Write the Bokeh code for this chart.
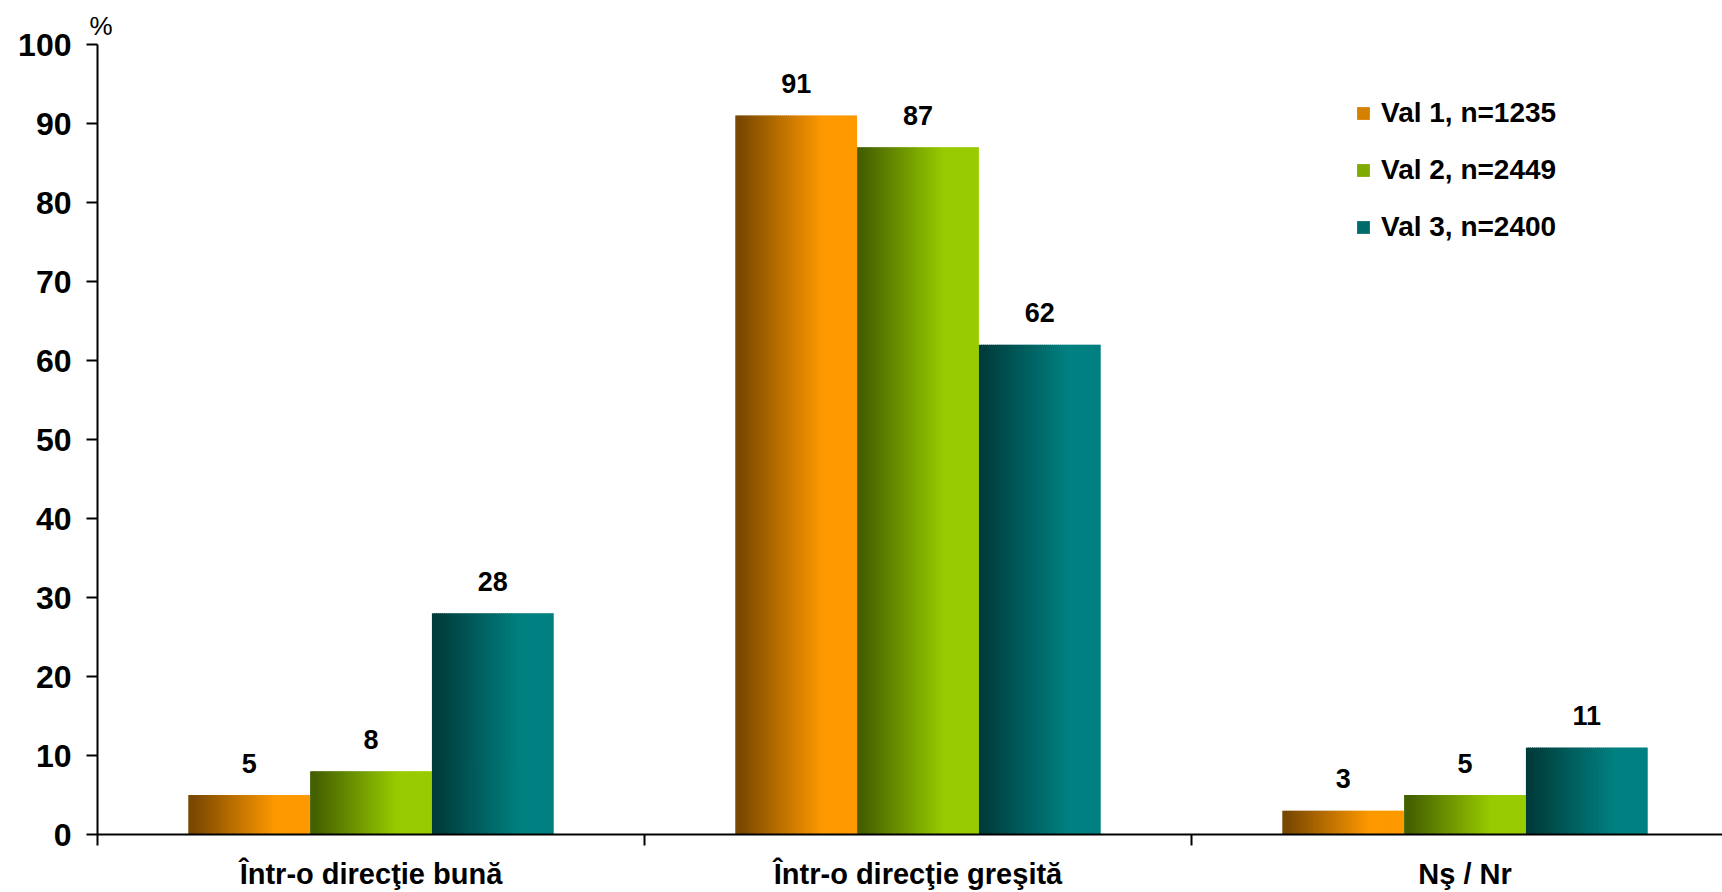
import numpy as np
from bokeh.plotting import figure
from bokeh.models import ColumnDataSource, Range1d, FixedTicker, Legend, LegendItem
from bokeh.core.properties import value
from bokeh.embed import file_html
from bokeh.resources import INLINE

# ---- data ----
categories = ["Într-o direcţie bună", "Într-o direcţie greşită", "Nş / Nr"]
series_names = ["Val 1, n=1235", "Val 2, n=2449", "Val 3, n=2400"]
val1 = [5, 91, 3]
val2 = [8, 87, 5]
val3 = [28, 62, 11]
y_ticks = [0, 10, 20, 30, 40, 50, 60, 70, 80, 90, 100]

# ---- style ----
dark_colors = [(0x7A, 0x48, 0x00), (0x44, 0x60, 0x00), (0x00, 0x3C, 0x3C)]
light_colors = [(0xFF, 0x99, 0x00), (0x99, 0xCC, 0x00), (0x00, 0x80, 0x80)]
FONT = "Liberation Sans"
W, H = 1722, 892
LEFT, TOP, BOTTOM = 97, 44, 55
PX_PER_CAT = 547.0
bar_w = 0.2227
offsets = [-bar_w, 0.0, bar_w]
NS = 60  # gradient steps per bar
ONE_PX = 1.0 / PX_PER_CAT

x_end = -0.5 + (W - LEFT) / PX_PER_CAT
p = figure(width=W, height=H, output_backend="svg", toolbar_location=None,
           x_range=Range1d(-0.5, x_end), y_range=Range1d(0, 100),
           min_border_left=LEFT, min_border_right=0, min_border_top=TOP,
           min_border_bottom=BOTTOM)
p.outline_line_color = None
p.xgrid.grid_line_color = None
p.ygrid.grid_line_color = None
p.background_fill_color = "white"
p.border_fill_color = "white"

# "%" unit label as a left-aligned title
p.title.text = "%"
p.title.align = "left"
p.title.offset = -8
p.title.standoff = 8
p.title.text_font = FONT
p.title.text_font_style = "normal"
p.title.text_font_size = "26px"
p.title.text_color = "black"


def mix(c1, c2, t):
    return "#%02x%02x%02x" % tuple(int(round(a + (b - a) * t)) for a, b in zip(c1, c2))


renderers = []
label_x, label_y, label_t = [], [], []
for si, vals in enumerate([val1, val2, val3]):
    xs, tops, ws, cols = [], [], [], []
    for ci, v in enumerate(vals):
        center = ci + offsets[si]
        left = center - bar_w / 2
        right = center + bar_w / 2
        step = bar_w / NS
        for k in range(NS):
            t = (k + 0.5) / NS
            s = min(max((t - 0.04) / 0.68, 0.0), 1.0)
            lk = left + k * step
            rk = min(lk + step + ONE_PX, right)  # small overlap hides seams
            xs.append((lk + rk) / 2)
            ws.append(rk - lk)
            tops.append(v)
            cols.append(mix(dark_colors[si], light_colors[si], s))
        label_x.append(center)
        label_y.append(v)
        label_t.append(str(v))
    src = ColumnDataSource(dict(x=xs, top=tops, w=ws, color=cols))
    r = p.vbar(x="x", width="w", top="top", bottom=0, source=src,
               fill_color="color", line_color=None)
    renderers.append(r)

lab_src = ColumnDataSource(dict(x=label_x, y=label_y, t=label_t))
p.text(x="x", y="y", text="t", source=lab_src, text_align="center",
       text_baseline="middle", y_offset=-32, text_font=value(FONT),
       text_font_style="bold", text_font_size="27px", text_color="black")

# ---- axes ----
xa = p.xaxis[0]
xa.ticker = FixedTicker(ticks=[0, 1, 2], minor_ticks=[-0.5, 0.5, 1.5])
xa.major_label_overrides = {i: c for i, c in enumerate(categories)}
xa.major_tick_line_color = None
xa.major_tick_out = 0
xa.major_tick_in = 0
xa.minor_tick_out = 11
xa.minor_tick_in = 0
xa.minor_tick_line_width = 2
xa.minor_tick_line_color = "black"
xa.axis_line_width = 2
xa.axis_line_color = "black"
xa.major_label_standoff = 12
xa.major_label_text_font = FONT
xa.major_label_text_font_style = "bold"
xa.major_label_text_font_size = "29px"
xa.major_label_text_color = "black"

ya = p.yaxis[0]
ya.ticker = FixedTicker(ticks=y_ticks)
ya.major_tick_out = 11
ya.major_tick_in = 0
ya.major_tick_line_width = 2
ya.major_tick_line_color = "black"
ya.minor_tick_line_color = None
ya.axis_line_width = 2
ya.axis_line_color = "black"
ya.major_label_standoff = 15
ya.major_label_text_font = FONT
ya.major_label_text_font_style = "bold"
ya.major_label_text_font_size = "32px"
ya.major_label_text_color = "black"

# ---- legend ----
items = [LegendItem(label=series_names[i], renderers=[renderers[i]], index=NS // 2)
         for i in range(3)]
legend = Legend(items=items, location=(1258, 590), orientation="vertical",
                glyph_width=16, glyph_height=16, label_standoff=10,
                label_height=34, spacing=23, padding=0, margin=0,
                border_line_color=None, background_fill_alpha=0,
                label_text_font=FONT, label_text_font_style="bold",
                label_text_font_size="28px", label_text_color="black")
p.add_layout(legend)

open("out.html", "w").write(file_html(p, INLINE))
